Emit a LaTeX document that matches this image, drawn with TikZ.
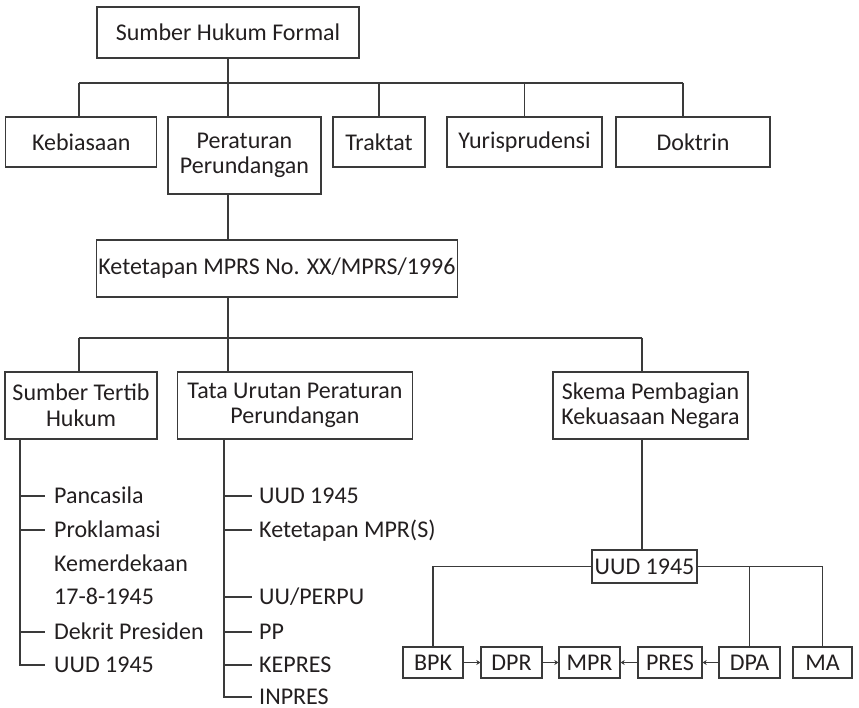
\documentclass[tikz,border=0pt]{standalone}
\usepackage{fontspec}
\setmainfont{Carlito}
\usetikzlibrary{arrows.meta}
\definecolor{ln}{HTML}{3A3A3A}
\definecolor{tx}{HTML}{231F20}
\begin{document}
\begin{tikzpicture}[x=1pt,y=-1pt,
  every node/.style={font=\fontsize{24}{25.5}\selectfont, text=tx, inner sep=0pt, align=center},
  bx/.style={draw=ln, line width=1.3pt},
  ln/.style={draw=ln, line width=1.3pt},
  arr/.style={ln, -{Stealth[length=4pt,width=5pt]}},
  item/.style={anchor=base west, yshift=-7.5pt}]
\useasboundingbox (0,0) rectangle (859,708);
% level 1
\node[bx, minimum width=262pt, minimum height=51pt] (top) at (228,32.5) {Sumber Hukum Formal};
\node[bx, minimum width=151pt, minimum height=50pt] (keb) at (81.3,142) {Kebiasaan};
\node[bx, minimum width=153pt, minimum height=77pt] (per) at (244.5,155.5) {Peraturan\\Perundangan};
\node[bx, minimum width=92pt, minimum height=50pt] (tra) at (379,142) {Traktat};
\node[bx, minimum width=155pt, minimum height=50pt] (yur) at (524.5,142) {Yurisprudensi};
\node[bx, minimum width=154pt, minimum height=50pt] (dok) at (693,142) {Doktrin};
\coordinate (b1L) at (79,83);
\coordinate (b1R) at (683,83);
\draw[ln] (b1L) -- (b1R);
\draw[ln] (top.south) -- (top.south |- per.north);
\draw[ln] (b1L) -- (b1L |- keb.north);
\draw[ln] (tra.north) -- (tra.north |- b1L);
\draw[ln] (yur.north) -- (yur.north |- b1L);
\draw[ln] (b1R) -- (b1R |- dok.north);
% level 2
\node[bx, minimum width=361pt, minimum height=57pt] (ket) at (277,268.5) {Ketetapan MPRS No. XX/MPRS/1996};
\draw[ln] (per.south -| top.south) -- (top.south |- ket.north);
\coordinate (b2L) at (79,338);
\coordinate (b2R) at (642,338);
\draw[ln] (b2L) -- (b2R);
\draw[ln] (ket.south -| top.south) -- (top.south |- b2L);
% level 3
\node[bx, minimum width=152pt, minimum height=67pt] (stb) at (81,405.5) {Sumber Tertib\\Hukum};
\node[bx, minimum width=235.5pt, minimum height=67pt] (tat) at (295,405.5) {Tata Urutan Peraturan\\Perundangan};
\node[bx, minimum width=195pt, minimum height=67pt] (ske) at (650.5,405.5) {Skema Pembagian\\Kekuasaan Negara};
\draw[ln] (b2L) -- (b2L |- stb.north);
\draw[ln] (top.south |- b2L) -- (top.south |- tat.north);
\draw[ln] (b2R) -- (b2R |- ske.north);
% left list
\coordinate (l0) at (20,0);
\foreach \y/\t [count=\i] in {496/Pancasila,530/Proklamasi,563.5/Kemerdekaan,597/17-8-1945,632/Dekrit Presiden,665/UUD 1945}{
  \coordinate (lt\i) at (20,\y);
  \node[item] (l\i) at (54,\y) {\t};
}
\draw[ln] (l0 |- stb.south) -- (lt6) -- ++(25,0);
\foreach \n in {lt1,lt2,lt5} \draw[ln] (\n) -- ++(25,0);
% middle list
\coordinate (m0) at (224,0);
\foreach \y/\t [count=\i] in {496/{UUD 1945},530/{Ketetapan MPR(S)},597/{UU/PERPU},632/{PP},665/{KEPRES},697/{INPRES}}{
  \coordinate (mt\i) at (224,\y);
  \node[item] (m\i) at (259,\y) {\t};
}
\draw[ln] (m0 |- tat.south) -- (mt6) -- ++(28,0);
\foreach \n in {mt1,mt2,mt3,mt4,mt5} \draw[ln] (\n) -- ++(28,0);
% power scheme
\node[bx, minimum width=105pt, minimum height=33pt] (uud) at (644.5,566.5) {UUD 1945};
\draw[ln] (b2R |- ske.south) -- (b2R |- uud.north);
\node[bx, minimum width=60pt, minimum height=31pt] (bpk) at (433,662.5) {BPK};
\node[bx, minimum width=61pt, minimum height=31pt] (dpr) at (511.5,662.5) {DPR};
\node[bx, minimum width=61pt, minimum height=31pt] (mpr) at (589.5,662.5) {MPR};
\node[bx, minimum width=64pt, minimum height=31pt] (pres) at (670,662.5) {PRES};
\node[bx, minimum width=61pt, minimum height=31pt] (dpa) at (749.5,662.5) {DPA};
\node[bx, minimum width=59pt, minimum height=31pt] (ma) at (822.5,662.5) {MA};
\draw[ln] (uud.west) -| (bpk.north);
\draw[ln] (uud.east) -| (ma.north);
\draw[ln] (dpa.north) -- (dpa.north |- uud.east);
\draw[arr] (bpk) -- (dpr);
\draw[arr] (dpr) -- (mpr);
\draw[arr] (pres) -- (mpr);
\draw[arr] (dpa) -- (pres);
\end{tikzpicture}
\end{document}
